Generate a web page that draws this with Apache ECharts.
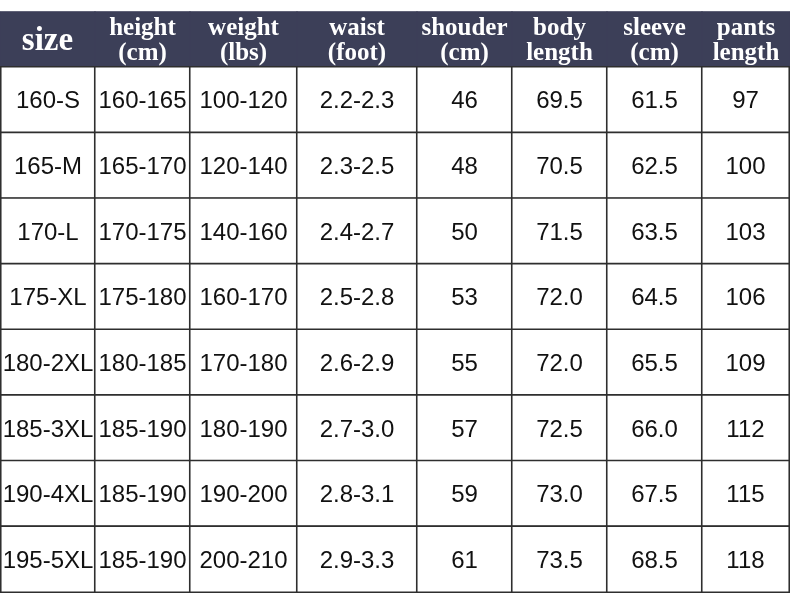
<!DOCTYPE html>
<html>
<head>
<meta charset="utf-8">
<script src="https://cdn.jsdelivr.net/npm/echarts@6/dist/echarts.min.js"></script>
<style>
  html, body { margin: 0; padding: 0; background: #ffffff; }
  #chart { width: 790px; height: 615px; }
</style>
</head>
<body>
<div id="chart"></div>
<script>
// ---- data ----
var headers = ['size', 'height\n(cm)', 'weight\n(lbs)', 'waist\n(foot)', 'shouder\n(cm)', 'body\nlength', 'sleeve\n(cm)', 'pants\nlength'];
var sizes = ['160-S', '165-M', '170-L', '175-XL', '180-2XL', '185-3XL', '190-4XL', '195-5XL'];
var heights = ['160-165', '165-170', '170-175', '175-180', '180-185', '185-190', '185-190', '185-190'];
var weights = ['100-120', '120-140', '140-160', '160-170', '170-180', '180-190', '190-200', '200-210'];
var waists = ['2.2-2.3', '2.3-2.5', '2.4-2.7', '2.5-2.8', '2.6-2.9', '2.7-3.0', '2.8-3.1', '2.9-3.3'];
var shoulders = ['46', '48', '50', '53', '55', '57', '59', '61'];
var bodyLengths = ['69.5', '70.5', '71.5', '72.0', '72.0', '72.5', '73.0', '73.5'];
var sleeves = ['61.5', '62.5', '63.5', '64.5', '65.5', '66.0', '67.5', '68.5'];
var pantsLengths = ['97', '100', '103', '106', '109', '112', '115', '118'];

var columns = [sizes, heights, weights, waists, shoulders, bodyLengths, sleeves, pantsLengths];

// ---- layout (not data) ----
var colWidths = [94, 95, 107, 120, 95, 95, 95, 87];
var tableLeft = 1;
var headerTop = 12, headerHeight = 55;
var bodyTop = 67, bodyHeight = 525;
var headerColor = '#3c3f58';
var lineColor = '#2e2e2e';

var grids = [], xAxes = [], yAxes = [], series = [];
var left = tableLeft;
for (var c = 0; c < columns.length; c++) {
  var w = colWidths[c];
  var hdrLeft = (c === 0) ? 0 : left;
  var hdrW = (c === 0) ? w + tableLeft : (c === columns.length - 1 ? 790 - left : w);
  // header grid
  grids.push({ left: hdrLeft, top: headerTop, width: hdrW, height: headerHeight });
  xAxes.push({ type: 'category', data: [headers[c]], gridIndex: grids.length - 1, show: false });
  yAxes.push({ type: 'category', data: ['header'], gridIndex: grids.length - 1, show: false });
  series.push({
    type: 'heatmap',
    xAxisIndex: xAxes.length - 1,
    yAxisIndex: yAxes.length - 1,
    data: [[0, 0, 1]],
    itemStyle: { color: headerColor, borderColor: headerColor, borderWidth: 1 },
    label: {
      show: true,
      formatter: (function (txt) { return function () { return txt; }; })(headers[c]),
      color: '#ffffff',
      fontFamily: 'Liberation Serif',
      fontWeight: 'bold',
      fontSize: c === 0 ? 33 : 25,
      lineHeight: 25,
      offset: [0, 2]
    },
    emphasis: { disabled: true },
    silent: true
  });
  // body grid
  grids.push({ left: left, top: bodyTop, width: w, height: bodyHeight });
  xAxes.push({ type: 'category', data: [headers[c]], gridIndex: grids.length - 1, show: false });
  yAxes.push({ type: 'category', data: sizes, inverse: true, gridIndex: grids.length - 1, show: false });
  var colData = columns[c].map(function (v, i) { return [0, i, 1]; });
  series.push({
    type: 'heatmap',
    xAxisIndex: xAxes.length - 1,
    yAxisIndex: yAxes.length - 1,
    data: colData,
    itemStyle: { color: '#ffffff', borderColor: lineColor, borderWidth: 1.6 },
    label: {
      show: true,
      formatter: (function (arr) { return function (p) { return arr[p.dataIndex]; }; })(columns[c]),
      color: '#111111',
      fontFamily: 'Liberation Sans',
      fontSize: 24,
      offset: [0, 2]
    },
    emphasis: { disabled: true },
    silent: true
  });
  left += w;
}

var chart = echarts.init(document.getElementById('chart'), null, { renderer: 'canvas' });
chart.setOption({
  animation: false,
  backgroundColor: '#ffffff',
  grid: grids,
  xAxis: xAxes,
  yAxis: yAxes,
  series: series
});
</script>
</body>
</html>
